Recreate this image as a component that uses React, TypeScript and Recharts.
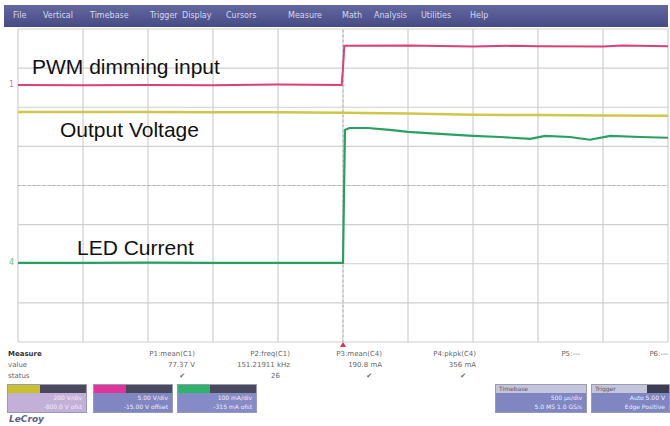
import { LineChart, Line, XAxis, YAxis, CartesianGrid, ReferenceLine } from 'recharts';

// scope screen: 10 horizontal divisions, 8 vertical divisions
const xTicks = [0, 1, 2, 3, 4, 5, 6, 7, 8, 9, 10];
const yTicks = [0, 1, 2, 3, 4, 5, 6, 7, 8];

// PWM dimming input (C2), in divisions
const pwmTime = [0, 1, 2, 3, 4, 4.98, 5.0, 5.02, 6, 7, 7.6, 8, 9, 9.3, 10];
const pwmLevel = [6.57, 6.56, 6.57, 6.56, 6.58, 6.57, 7.0, 7.57, 7.58, 7.55, 7.57, 7.56, 7.55, 7.58, 7.56];

// Output voltage (C1)
const voutTime = [0, 1, 2, 3, 4, 5, 6, 7, 8, 9, 10];
const voutLevel = [5.88, 5.88, 5.88, 5.87, 5.87, 5.86, 5.84, 5.81, 5.80, 5.79, 5.78];

// LED current (C4)
const iledTime = [0, 1, 2, 3, 4, 5.0, 5.03, 5.1, 5.38, 5.72, 6.0, 6.49, 7.0, 7.42, 7.88, 8.11, 8.49, 8.8, 9.11, 9.57, 10];
const iledLevel = [2.02, 2.02, 2.03, 2.02, 2.02, 2.02, 5.42, 5.47, 5.47, 5.42, 5.37, 5.32, 5.27, 5.24, 5.19, 5.27, 5.24, 5.17, 5.27, 5.24, 5.22];

const menuItems = ['File', 'Vertical', 'Timebase', 'Trigger', 'Display', 'Cursors', 'Measure', 'Math', 'Analysis', 'Utilities', 'Help'];
const measureHeads = ['P1:mean(C1)', 'P2:freq(C1)', 'P3:mean(C4)', 'P4:pkpk(C4)', 'P5:---', 'P6:---'];
const measureValues = ['77.37 V', '151.21911 kHz', '190.8 mA', '356 mA', '', ''];
const measureStatus = ['\u2714', '26', '\u2714', '\u2714', '', ''];

const toRows = (t: number[], v: number[]) => t.map((x, i) => ({ t: x, v: v[i] }));

const labelStyle: React.CSSProperties = {
  position: 'absolute',
  fontFamily: '"Liberation Sans", Arial, sans-serif',
  fontSize: 21,
  color: '#111',
  whiteSpace: 'nowrap',
};

const small: React.CSSProperties = {
  position: 'absolute',
  fontFamily: '"DejaVu Sans", sans-serif',
  fontSize: 7,
  color: '#666',
  whiteSpace: 'nowrap',
};

function ChannelBox({ left, color, body, lines }: { left: number; color: string; body: string; lines: string[] }) {
  return (
    <div style={{ position: 'absolute', left, top: 384, width: 80, height: 29, border: '1px solid #9a9ab8', boxSizing: 'border-box' }}>
      <div style={{ height: 8, display: 'flex' }}>
        <div style={{ width: 32, background: color }} />
        <div style={{ flex: 1, background: '#4a4a5e' }} />
      </div>
      <div style={{ height: 19, background: body, color: '#eef', fontFamily: '"DejaVu Sans", sans-serif', fontSize: 6, textAlign: 'right', paddingRight: 4, lineHeight: '9px' }}>
        {lines.map(l => <div key={l}>{l}</div>)}
      </div>
    </div>
  );
}

export default function App() {
  return (
    <div style={{ position: 'fixed', left: 0, top: 0, width: 670, height: 426, background: '#fff', overflow: 'hidden' }}>
      {/* menu bar */}
      <div style={{ position: 'absolute', left: 4, top: 5, width: 664, height: 22, background: 'linear-gradient(#6468a0, #474b86)' }}>
        {menuItems.map((m, i) => (
          <span key={m} style={{ position: 'absolute', left: [9, 39, 86, 146, 178, 222, 284, 338, 370, 417, 466][i], top: 6, fontFamily: '"DejaVu Sans", sans-serif', fontSize: 8, color: '#d6d8ee' }}>{m}</span>
        ))}
      </div>

      <div style={{ position: 'absolute', left: 0, top: 0 }}>
        <LineChart width={670} height={426} margin={{ top: 29, left: 18, right: 2, bottom: 84 }}>
          <XAxis type="number" dataKey="t" domain={[0, 10]} ticks={xTicks} hide allowDuplicatedCategory={false} />
          <YAxis type="number" domain={[0, 8]} ticks={yTicks} hide />
          <CartesianGrid stroke="#cfcfcf" strokeWidth={1.2} />
          <ReferenceLine x={5} stroke="#b0b0b0" strokeDasharray="2 3" />
          <ReferenceLine y={4} stroke="#b0b0b0" strokeDasharray="2 3" />
          <Line data={toRows(voutTime, voutLevel)} dataKey="v" stroke="#cfc64a" strokeWidth={2.5} dot={false} isAnimationActive={false} />
          <Line data={toRows(pwmTime, pwmLevel)} dataKey="v" stroke="#dc3f74" strokeWidth={2} dot={false} isAnimationActive={false} />
          <Line data={toRows(iledTime, iledLevel)} dataKey="v" stroke="#27a060" strokeWidth={2.2} dot={false} isAnimationActive={false} />
        </LineChart>
      </div>

      {/* channel markers */}
      <span style={{ ...small, left: 9, top: 80, color: '#e0809f', fontSize: 8 }}>1</span>
      <span style={{ ...small, left: 9, top: 258, color: '#6cbf85', fontSize: 8 }}>4</span>
      {/* trigger marker */}
      <div style={{ position: 'absolute', left: 340, top: 342, width: 0, height: 0, borderLeft: '3px solid transparent', borderRight: '3px solid transparent', borderBottom: '5px solid #e03050' }} />

      <div style={{ ...labelStyle, left: 32, top: 55 }}>PWM dimming input</div>
      <div style={{ ...labelStyle, left: 60, top: 118 }}>Output Voltage</div>
      <div style={{ ...labelStyle, left: 77, top: 236 }}>LED Current</div>

      {/* measurement table */}
      <span style={{ ...small, left: 8, top: 350, fontWeight: 'bold', color: '#333' }}>Measure</span>
      <span style={{ ...small, left: 8, top: 361 }}>value</span>
      <span style={{ ...small, left: 8, top: 372 }}>status</span>
      {measureHeads.map((h, i) => {
        const right = [670 - 195, 670 - 290, 670 - 382, 670 - 476, 670 - 580, 670 - 668][i];
        return (
          <div key={h}>
            <span style={{ ...small, right, top: 350 }}>{h}</span>
            <span style={{ ...small, right, top: 361 }}>{measureValues[i]}</span>
            <span style={{ ...small, right: right + 10, top: 372 }}>{measureStatus[i]}</span>
          </div>
        );
      })}

      <ChannelBox left={7} color="#c9c22e" body="#c3b0d8" lines={['200 V/div', '-800.0 V ofst']} />
      <ChannelBox left={93} color="#e0349a" body="#7f86c2" lines={['5.00 V/div', '-15.00 V offset']} />
      <ChannelBox left={177} color="#2fb36c" body="#858bc6" lines={['100 mA/div', '-315 mA ofst']} />

      {/* timebase / trigger */}
      <div style={{ position: 'absolute', left: 495, top: 384, width: 92, height: 29, border: '1px solid #9a9ab8', boxSizing: 'border-box' }}>
        <div style={{ height: 8, background: '#c4c6dc', fontFamily: '"DejaVu Sans", sans-serif', fontSize: 6, color: '#556', paddingLeft: 3 }}>Timebase</div>
        <div style={{ height: 19, background: '#7f86c2', color: '#eef', fontFamily: '"DejaVu Sans", sans-serif', fontSize: 6, textAlign: 'right', paddingRight: 4, lineHeight: '9px' }}>
          <div>500 µs/div</div>
          <div>5.0 MS  1.0 GS/s</div>
        </div>
      </div>
      <div style={{ position: 'absolute', left: 591, top: 384, width: 79, height: 29, border: '1px solid #9a9ab8', boxSizing: 'border-box' }}>
        <div style={{ height: 8, display: 'flex' }}>
          <div style={{ flex: 1, background: '#c4c6dc', fontFamily: '"DejaVu Sans", sans-serif', fontSize: 6, color: '#556', paddingLeft: 3 }}>Trigger</div>
          <div style={{ width: 22, background: '#3e3e52' }} />
        </div>
        <div style={{ height: 19, background: '#7f86c2', color: '#eef', fontFamily: '"DejaVu Sans", sans-serif', fontSize: 6, textAlign: 'right', paddingRight: 4, lineHeight: '9px' }}>
          <div>Auto  5.00 V</div>
          <div>Edge  Positive</div>
        </div>
      </div>

      <span style={{ position: 'absolute', left: 9, top: 414, fontFamily: '"DejaVu Sans", sans-serif', fontSize: 9, fontStyle: 'italic', fontWeight: 'bold', color: '#5a6080' }}>LeCroy</span>
    </div>
  );
}
